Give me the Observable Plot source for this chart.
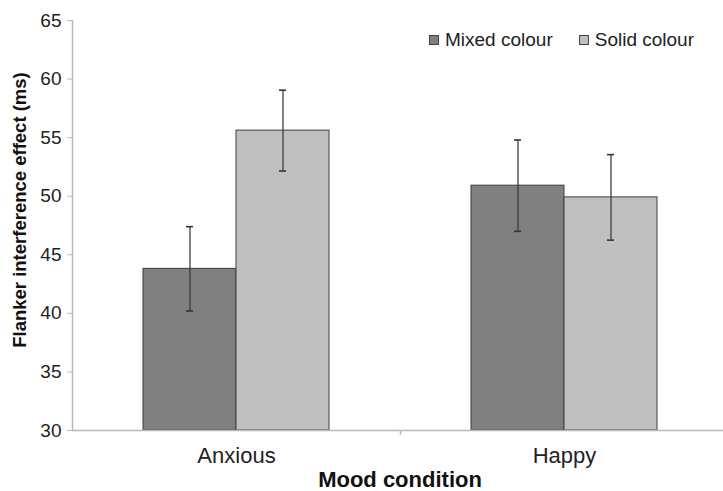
<!DOCTYPE html>
<html>
<head>
<meta charset="utf-8">
<script src="https://cdn.jsdelivr.net/npm/d3@7"></script>
<script src="https://cdn.jsdelivr.net/npm/@observablehq/plot@0.6"></script>
<style>
  html, body { margin: 0; padding: 0; background: #fff; overflow: hidden; }
  #wrap { position: relative; width: 723px; height: 491px; font-family: "Liberation Sans", Arial, sans-serif; }
  #wrap svg { position: absolute; left: 0; top: 0; }
  .ytitle { position: absolute; left: 20px; top: 210px; transform: translate(-50%, -50%) rotate(-90deg); font-weight: bold; font-size: 18.5px; white-space: nowrap; color: #111; }
  .xtitle { position: absolute; left: 400px; top: 480px; transform: translate(-50%, -50%); font-weight: bold; font-size: 22px; white-space: nowrap; color: #111; }
  .legend { position: absolute; left: 429px; top: 29px; display: flex; align-items: center; font-size: 19px; color: #222; white-space: nowrap; }
  .legend .sw { width: 8px; height: 8px; border: 1px solid #444; margin-right: 6px; }
  .legend .item { display: flex; align-items: center; margin-right: 26px; }
</style>
</head>
<body>
<div id="wrap"></div>
<script>
const moods = ["Anxious", "Happy"];
const series = ["Mixed colour", "Solid colour"];
const mixedValues = [43.8, 50.9];
const solidValues = [55.6, 49.9];
const mixedErr = [3.6, 3.9];
const solidErr = [3.45, 3.65];
const yTicks = [30, 35, 40, 45, 50, 55, 60, 65];
const colours = ["#808080", "#c0c0c0"];

const data = [];
moods.forEach((m, i) => {
  data.push({mood: m, colour: series[0], value: mixedValues[i], err: mixedErr[i]});
  data.push({mood: m, colour: series[1], value: solidValues[i], err: solidErr[i]});
});

const axisColor = "#b8b8b8";

const chart = Plot.plot({
  width: 723,
  height: 491,
  marginLeft: 72,
  marginRight: 0,
  marginTop: 20,
  marginBottom: 61,
  style: {fontFamily: "'Liberation Sans', Arial, sans-serif", background: "transparent"},
  fx: {domain: moods, range: [72, 728], padding: 0, label: null, axis: null},
  x: {domain: series, paddingInner: 0, paddingOuter: 0.75, axis: null},
  y: {domain: [30, 65], label: null},
  color: {domain: series, range: colours},
  marks: [
    Plot.barY(data, {fx: "mood", x: "colour", y1: 30, y2: "value", fill: "colour", stroke: "#3c3c3c", strokeWidth: 1}),
    Plot.ruleY([30], {stroke: axisColor, strokeWidth: 1.5}),
    Plot.ruleX([{mood: "Anxious"}], {fx: "mood", x: null, y1: 30, y2: 65, dx: -164, stroke: axisColor, strokeWidth: 1.5}),
    Plot.ruleX([{mood: "Happy"}], {fx: "mood", x: null, y1: 30, y2: 29.6, dx: -164, stroke: axisColor, strokeWidth: 1.5}),
    Plot.ruleX(data, {fx: "mood", x: "colour", y1: d => d.value - d.err, y2: d => d.value + d.err, stroke: "#333", strokeWidth: 1.2}),
    Plot.tickY(data, {fx: "mood", x: "colour", y: d => d.value - d.err, stroke: "#333", strokeWidth: 1.6, insetLeft: 43, insetRight: 43}),
    Plot.tickY(data, {fx: "mood", x: "colour", y: d => d.value + d.err, stroke: "#333", strokeWidth: 1.6, insetLeft: 43, insetRight: 43}),
    Plot.axisY({ticks: yTicks, tickSize: 5, tickPadding: 6, fontSize: 19, stroke: axisColor, color: "#222", label: null}),
    Plot.axisFx({anchor: "bottom", tickSize: 0, tickPadding: 17, fontSize: 22, color: "#222", label: null})
  ]
});

const wrap = document.getElementById("wrap");
wrap.appendChild(chart);

const yt = document.createElement("div");
yt.className = "ytitle";
yt.textContent = "Flanker interference effect (ms)";
wrap.appendChild(yt);

const xt = document.createElement("div");
xt.className = "xtitle";
xt.textContent = "Mood condition";
wrap.appendChild(xt);

const lg = document.createElement("div");
lg.className = "legend";
series.forEach((s, i) => {
  const it = document.createElement("div");
  it.className = "item";
  const sw = document.createElement("div");
  sw.className = "sw";
  sw.style.background = colours[i];
  it.appendChild(sw);
  const t = document.createElement("span");
  t.textContent = s;
  it.appendChild(t);
  lg.appendChild(it);
});
wrap.appendChild(lg);
</script>
</body>
</html>
